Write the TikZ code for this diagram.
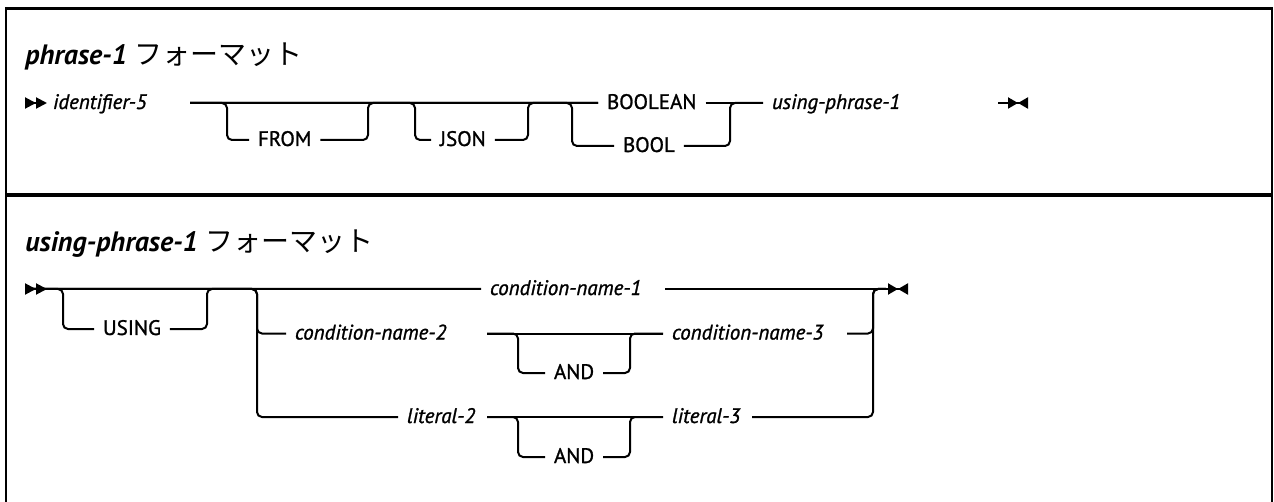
\documentclass[tikz,border=0pt]{standalone}
\usepackage{fontspec}
\setmainfont{PT Sans}
\newfontfamily\railfont{PT Sans}[FakeBold=1.2]
\newfontfamily\jpfont{Noto Sans CJK JP}
\usepackage{tikz}
\usetikzlibrary{arrows.meta}

\begin{document}
\begin{tikzpicture}[x=0.5pt,y=-0.5pt,
  rail/.style={line width=1pt,rounded corners=2.5pt},
  kw/.style={inner sep=0pt,outer xsep=4.5pt,anchor=west,text height=7pt,
    text depth=1pt,font=\railfont\fontsize{10.5}{12}\selectfont},
  var/.style={kw,font=\railfont\fontsize{10.5}{12}\selectfont\itshape},
  heading/.style={inner sep=0pt,anchor=base west,
    font=\fontsize{14}{16}\selectfont\bfseries\itshape},
  startmark/.style={arrows={{Triangle[reversed,length=5.5pt,width=5.5pt]Triangle[reversed,length=5.5pt,width=5.5pt]}-}},
  endmark/.style={arrows={-{Triangle[length=5pt,width=5.5pt]Triangle[reversed,length=5pt,width=5.5pt]}}}]
\useasboundingbox (0,0) rectangle (1274,502);

% frame
\draw[line width=1.4pt] (6,502) -- (6,8.5) -- (1272,8.5) -- (1272,502);
\draw[line width=2pt] (6,195) -- (1272,195);

% phrase-1
\node[heading] (head1) at (25,65) {phrase-1 {\jpfont\mdseries\upshape フォーマット}};
\node[var] (id5) at (44,103) {identifier-5};
\node[kw] (from) at (249,140) {FROM};
\node[kw] (json) at (431,140) {JSON};
\node[kw] (boolean) at (598,103) {BOOLEAN};
\node[kw] (bool) at (614,146) {BOOL};
\node[var] (usingp) at (763,103) {using-phrase-1};
\coordinate (sA) at (25,103);
\coordinate (m1) at (190,103);
\coordinate (j1) at (227,103);
\coordinate (j2) at (368,103);
\coordinate (j3) at (415,103);
\coordinate (j4) at (528,103);
\coordinate (j5) at (572,103);
\coordinate (j6) at (730,103);
\coordinate (eA) at (998,103);
\coordinate (eAe) at (1028,103);

\draw[rail,startmark] (sA) -- (id5.west);
\draw[rail] (m1) -- (boolean.west);
\draw[rail] (m1) -- (j1) |- (from.west);
\draw[rail] (from.east) -| (j2) -- (boolean.west);
\draw[rail] (m1) -- (j3) |- (json.west);
\draw[rail] (json.east) -| (j4) -- (boolean.west);
\draw[rail] (m1) -- (j5) |- (bool.west);
\draw[rail] (bool.east) -| (j6) -- (usingp.west);
\draw[rail] (boolean.east) -- (usingp.west);
\draw[rail,endmark] (eA) -- (eAe);

% using-phrase-1
\node[heading] (head2) at (25,252) {using-phrase-1 {\jpfont\mdseries\upshape フォーマット}};
\node[kw] (using) at (94,329) {USING};
\node[var] (cond1) at (481,289) {condition-name-1};
\node[var] (cond2) at (286,333.5) {condition-name-2};
\node[var] (cond3) at (663,333.5) {condition-name-3};
\node[var] (lit2) at (398,417) {literal-2};
\node[var] (lit3) at (663,417) {literal-3};
\node[kw] (and1) at (545,373) {AND};
\node[kw] (and2) at (545,457) {AND};
\coordinate (sB) at (25,289);
\coordinate (k1) at (63,289);
\coordinate (k2) at (207,289);
\coordinate (k3) at (257,289);
\coordinate (k4) at (873,289);
\coordinate (q1) at (487,333.5);
\coordinate (p1) at (518,333.5);
\coordinate (p2) at (630,333.5);
\coordinate (q3) at (847,333.5);
\coordinate (q2) at (487,417);
\coordinate (p3) at (518,417);
\coordinate (p4) at (630,417);
\coordinate (q4) at (752,417);
\coordinate (q5) at (665,289);
\coordinate (eBin) at (886,289);
\coordinate (eB) at (908,289);

\draw[rail,startmark] (sB) -- (cond1.west);
\draw[rail] (sB) -- (k1) |- (using.west);
\draw[rail] (using.east) -| (k2) -- (cond1.west);
\draw[rail] (sB) -- (k3) |- (cond2.west);
\draw[rail] (sB) -- (k3) |- (lit2.west);
\draw[rail] (q1) -- (cond3.west);
\draw[rail] (q1) -- (p1) |- (and1.west);
\draw[rail] (and1.east) -| (p2) -- (cond3.west);
\draw[rail] (q2) -- (lit3.west);
\draw[rail] (q2) -- (p3) |- (and2.west);
\draw[rail] (and2.east) -| (p4) -- (lit3.west);
\draw[rail] (q3) -| (k4) -- (eBin);
\draw[rail] (q4) -| (k4) -- (eBin);
\draw[rail,endmark] (q5) -- (eB);
\end{tikzpicture}
\end{document}
